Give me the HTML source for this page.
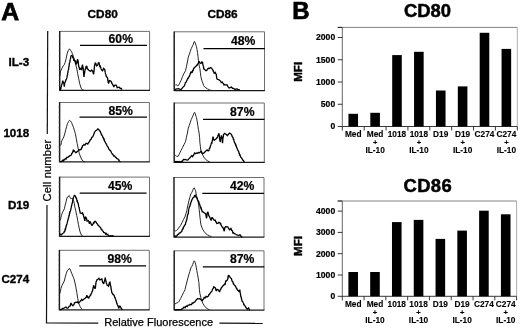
<!DOCTYPE html>
<html><head><meta charset="utf-8"><style>
html,body{margin:0;padding:0;background:#fff;}
svg{display:block;filter:grayscale(1);}
</style></head><body>
<svg width="520" height="328" viewBox="0 0 520 328">
<rect width="520" height="328" fill="#fff"/>
<text x="1.2" y="19.6" font-size="24.8" font-weight="bold" stroke="#000" stroke-width="0.75" font-family="Liberation Sans, sans-serif">A</text>
<text x="87.6" y="18.2" font-size="11.8" font-weight="bold" stroke="#000" stroke-width="0.35" font-family="Liberation Sans, sans-serif">CD80</text>
<text x="207.4" y="18.2" font-size="11.8" font-weight="bold" stroke="#000" stroke-width="0.35" font-family="Liberation Sans, sans-serif">CD86</text>
<text x="29.2" y="65.8" font-size="11.6" font-weight="bold" stroke="#000" stroke-width="0.35" text-anchor="end" font-family="Liberation Sans, sans-serif">IL-3</text>
<text x="29.2" y="137.3" font-size="11.6" font-weight="bold" stroke="#000" stroke-width="0.35" text-anchor="end" font-family="Liberation Sans, sans-serif">1018</text>
<text x="29.2" y="209.2" font-size="11.6" font-weight="bold" stroke="#000" stroke-width="0.35" text-anchor="end" font-family="Liberation Sans, sans-serif">D19</text>
<text x="29.2" y="282.7" font-size="11.6" font-weight="bold" stroke="#000" stroke-width="0.35" text-anchor="end" font-family="Liberation Sans, sans-serif">C274</text>
<polyline points="59.7,31.4 149.6,31.4 149.6,90.3" fill="none" stroke="#666" stroke-width="0.95"/>
<line x1="59.7" y1="90.3" x2="150.0" y2="90.3" stroke="#1a1a1a" stroke-width="1.25"/>
<line x1="59.7" y1="31.0" x2="59.7" y2="90.89999999999999" stroke="#1a1a1a" stroke-width="1.45"/>
<line x1="58.5" y1="85.39" x2="59.7" y2="85.39" stroke="#666" stroke-width="0.6"/>
<line x1="58.5" y1="80.48" x2="59.7" y2="80.48" stroke="#666" stroke-width="0.6"/>
<line x1="58.5" y1="75.58" x2="59.7" y2="75.58" stroke="#666" stroke-width="0.6"/>
<line x1="58.5" y1="70.67" x2="59.7" y2="70.67" stroke="#666" stroke-width="0.6"/>
<line x1="58.5" y1="65.76" x2="59.7" y2="65.76" stroke="#666" stroke-width="0.6"/>
<line x1="58.5" y1="60.85" x2="59.7" y2="60.85" stroke="#666" stroke-width="0.6"/>
<line x1="58.5" y1="55.94" x2="59.7" y2="55.94" stroke="#666" stroke-width="0.6"/>
<line x1="58.5" y1="51.03" x2="59.7" y2="51.03" stroke="#666" stroke-width="0.6"/>
<line x1="58.5" y1="46.12" x2="59.7" y2="46.12" stroke="#666" stroke-width="0.6"/>
<line x1="58.5" y1="41.22" x2="59.7" y2="41.22" stroke="#666" stroke-width="0.6"/>
<line x1="58.5" y1="36.31" x2="59.7" y2="36.31" stroke="#666" stroke-width="0.6"/>
<text x="108.6" y="42.8" font-size="12.2" font-weight="bold" stroke="#000" stroke-width="0.2" font-family="Liberation Sans, sans-serif">60%</text>
<line x1="80.0" y1="45.4" x2="147.0" y2="45.4" stroke="#000" stroke-width="1.25"/>
<polyline points="174.2,31.8 264.5,31.8 264.5,90.5" fill="none" stroke="#666" stroke-width="0.95"/>
<line x1="174.2" y1="90.5" x2="264.9" y2="90.5" stroke="#1a1a1a" stroke-width="1.25"/>
<line x1="174.2" y1="31.400000000000002" x2="174.2" y2="91.1" stroke="#1a1a1a" stroke-width="1.45"/>
<line x1="173.0" y1="85.61" x2="174.2" y2="85.61" stroke="#666" stroke-width="0.6"/>
<line x1="173.0" y1="80.72" x2="174.2" y2="80.72" stroke="#666" stroke-width="0.6"/>
<line x1="173.0" y1="75.83" x2="174.2" y2="75.83" stroke="#666" stroke-width="0.6"/>
<line x1="173.0" y1="70.93" x2="174.2" y2="70.93" stroke="#666" stroke-width="0.6"/>
<line x1="173.0" y1="66.04" x2="174.2" y2="66.04" stroke="#666" stroke-width="0.6"/>
<line x1="173.0" y1="61.15" x2="174.2" y2="61.15" stroke="#666" stroke-width="0.6"/>
<line x1="173.0" y1="56.26" x2="174.2" y2="56.26" stroke="#666" stroke-width="0.6"/>
<line x1="173.0" y1="51.37" x2="174.2" y2="51.37" stroke="#666" stroke-width="0.6"/>
<line x1="173.0" y1="46.47" x2="174.2" y2="46.47" stroke="#666" stroke-width="0.6"/>
<line x1="173.0" y1="41.58" x2="174.2" y2="41.58" stroke="#666" stroke-width="0.6"/>
<line x1="173.0" y1="36.69" x2="174.2" y2="36.69" stroke="#666" stroke-width="0.6"/>
<text x="231.0" y="44.7" font-size="12.2" font-weight="bold" stroke="#000" stroke-width="0.2" font-family="Liberation Sans, sans-serif">48%</text>
<line x1="203.5" y1="48.6" x2="264.8" y2="48.6" stroke="#000" stroke-width="1.25"/>
<polyline points="59.6,102.5 149.4,102.5 149.4,161.8" fill="none" stroke="#666" stroke-width="0.95"/>
<line x1="59.6" y1="161.8" x2="149.8" y2="161.8" stroke="#1a1a1a" stroke-width="1.25"/>
<line x1="59.6" y1="102.1" x2="59.6" y2="162.4" stroke="#1a1a1a" stroke-width="1.45"/>
<line x1="58.4" y1="156.86" x2="59.6" y2="156.86" stroke="#666" stroke-width="0.6"/>
<line x1="58.4" y1="151.92" x2="59.6" y2="151.92" stroke="#666" stroke-width="0.6"/>
<line x1="58.4" y1="146.98" x2="59.6" y2="146.98" stroke="#666" stroke-width="0.6"/>
<line x1="58.4" y1="142.03" x2="59.6" y2="142.03" stroke="#666" stroke-width="0.6"/>
<line x1="58.4" y1="137.09" x2="59.6" y2="137.09" stroke="#666" stroke-width="0.6"/>
<line x1="58.4" y1="132.15" x2="59.6" y2="132.15" stroke="#666" stroke-width="0.6"/>
<line x1="58.4" y1="127.21" x2="59.6" y2="127.21" stroke="#666" stroke-width="0.6"/>
<line x1="58.4" y1="122.27" x2="59.6" y2="122.27" stroke="#666" stroke-width="0.6"/>
<line x1="58.4" y1="117.33" x2="59.6" y2="117.33" stroke="#666" stroke-width="0.6"/>
<line x1="58.4" y1="112.38" x2="59.6" y2="112.38" stroke="#666" stroke-width="0.6"/>
<line x1="58.4" y1="107.44" x2="59.6" y2="107.44" stroke="#666" stroke-width="0.6"/>
<text x="108.4" y="115.0" font-size="12.2" font-weight="bold" stroke="#000" stroke-width="0.2" font-family="Liberation Sans, sans-serif">85%</text>
<line x1="79.5" y1="117.0" x2="147.0" y2="117.0" stroke="#000" stroke-width="1.25"/>
<polyline points="174.2,103.0 264.3,103.0 264.3,162.3" fill="none" stroke="#666" stroke-width="0.95"/>
<line x1="174.2" y1="162.3" x2="264.7" y2="162.3" stroke="#1a1a1a" stroke-width="1.25"/>
<line x1="174.2" y1="102.6" x2="174.2" y2="162.9" stroke="#1a1a1a" stroke-width="1.45"/>
<line x1="173.0" y1="157.36" x2="174.2" y2="157.36" stroke="#666" stroke-width="0.6"/>
<line x1="173.0" y1="152.42" x2="174.2" y2="152.42" stroke="#666" stroke-width="0.6"/>
<line x1="173.0" y1="147.48" x2="174.2" y2="147.48" stroke="#666" stroke-width="0.6"/>
<line x1="173.0" y1="142.53" x2="174.2" y2="142.53" stroke="#666" stroke-width="0.6"/>
<line x1="173.0" y1="137.59" x2="174.2" y2="137.59" stroke="#666" stroke-width="0.6"/>
<line x1="173.0" y1="132.65" x2="174.2" y2="132.65" stroke="#666" stroke-width="0.6"/>
<line x1="173.0" y1="127.71" x2="174.2" y2="127.71" stroke="#666" stroke-width="0.6"/>
<line x1="173.0" y1="122.77" x2="174.2" y2="122.77" stroke="#666" stroke-width="0.6"/>
<line x1="173.0" y1="117.83" x2="174.2" y2="117.83" stroke="#666" stroke-width="0.6"/>
<line x1="173.0" y1="112.88" x2="174.2" y2="112.88" stroke="#666" stroke-width="0.6"/>
<line x1="173.0" y1="107.94" x2="174.2" y2="107.94" stroke="#666" stroke-width="0.6"/>
<text x="230.1" y="115.8" font-size="12.2" font-weight="bold" stroke="#000" stroke-width="0.2" font-family="Liberation Sans, sans-serif">87%</text>
<line x1="203.0" y1="119.4" x2="264.5" y2="119.4" stroke="#000" stroke-width="1.25"/>
<polyline points="59.6,177.1 149.5,177.1 149.5,236.3" fill="none" stroke="#666" stroke-width="0.95"/>
<line x1="59.6" y1="236.3" x2="149.9" y2="236.3" stroke="#1a1a1a" stroke-width="1.25"/>
<line x1="59.6" y1="176.7" x2="59.6" y2="236.9" stroke="#1a1a1a" stroke-width="1.45"/>
<line x1="58.4" y1="231.37" x2="59.6" y2="231.37" stroke="#666" stroke-width="0.6"/>
<line x1="58.4" y1="226.43" x2="59.6" y2="226.43" stroke="#666" stroke-width="0.6"/>
<line x1="58.4" y1="221.50" x2="59.6" y2="221.50" stroke="#666" stroke-width="0.6"/>
<line x1="58.4" y1="216.57" x2="59.6" y2="216.57" stroke="#666" stroke-width="0.6"/>
<line x1="58.4" y1="211.63" x2="59.6" y2="211.63" stroke="#666" stroke-width="0.6"/>
<line x1="58.4" y1="206.70" x2="59.6" y2="206.70" stroke="#666" stroke-width="0.6"/>
<line x1="58.4" y1="201.77" x2="59.6" y2="201.77" stroke="#666" stroke-width="0.6"/>
<line x1="58.4" y1="196.83" x2="59.6" y2="196.83" stroke="#666" stroke-width="0.6"/>
<line x1="58.4" y1="191.90" x2="59.6" y2="191.90" stroke="#666" stroke-width="0.6"/>
<line x1="58.4" y1="186.97" x2="59.6" y2="186.97" stroke="#666" stroke-width="0.6"/>
<line x1="58.4" y1="182.03" x2="59.6" y2="182.03" stroke="#666" stroke-width="0.6"/>
<text x="108.0" y="190.2" font-size="12.2" font-weight="bold" stroke="#000" stroke-width="0.2" font-family="Liberation Sans, sans-serif">45%</text>
<line x1="79.7" y1="193.1" x2="146.6" y2="193.1" stroke="#000" stroke-width="1.25"/>
<polyline points="174.0,177.5 264.0,177.5 264.0,237.0" fill="none" stroke="#666" stroke-width="0.95"/>
<line x1="174.0" y1="237.0" x2="264.4" y2="237.0" stroke="#1a1a1a" stroke-width="1.25"/>
<line x1="174.0" y1="177.1" x2="174.0" y2="237.6" stroke="#1a1a1a" stroke-width="1.45"/>
<line x1="172.8" y1="232.04" x2="174.0" y2="232.04" stroke="#666" stroke-width="0.6"/>
<line x1="172.8" y1="227.08" x2="174.0" y2="227.08" stroke="#666" stroke-width="0.6"/>
<line x1="172.8" y1="222.12" x2="174.0" y2="222.12" stroke="#666" stroke-width="0.6"/>
<line x1="172.8" y1="217.17" x2="174.0" y2="217.17" stroke="#666" stroke-width="0.6"/>
<line x1="172.8" y1="212.21" x2="174.0" y2="212.21" stroke="#666" stroke-width="0.6"/>
<line x1="172.8" y1="207.25" x2="174.0" y2="207.25" stroke="#666" stroke-width="0.6"/>
<line x1="172.8" y1="202.29" x2="174.0" y2="202.29" stroke="#666" stroke-width="0.6"/>
<line x1="172.8" y1="197.33" x2="174.0" y2="197.33" stroke="#666" stroke-width="0.6"/>
<line x1="172.8" y1="192.38" x2="174.0" y2="192.38" stroke="#666" stroke-width="0.6"/>
<line x1="172.8" y1="187.42" x2="174.0" y2="187.42" stroke="#666" stroke-width="0.6"/>
<line x1="172.8" y1="182.46" x2="174.0" y2="182.46" stroke="#666" stroke-width="0.6"/>
<text x="229.9" y="190.4" font-size="12.2" font-weight="bold" stroke="#000" stroke-width="0.2" font-family="Liberation Sans, sans-serif">42%</text>
<line x1="202.3" y1="193.4" x2="264.0" y2="193.4" stroke="#000" stroke-width="1.25"/>
<polyline points="59.4,250.3 149.3,250.3 149.3,309.8" fill="none" stroke="#666" stroke-width="0.95"/>
<line x1="59.4" y1="309.8" x2="149.70000000000002" y2="309.8" stroke="#1a1a1a" stroke-width="1.25"/>
<line x1="59.4" y1="249.9" x2="59.4" y2="310.40000000000003" stroke="#1a1a1a" stroke-width="1.45"/>
<line x1="58.199999999999996" y1="304.84" x2="59.4" y2="304.84" stroke="#666" stroke-width="0.6"/>
<line x1="58.199999999999996" y1="299.88" x2="59.4" y2="299.88" stroke="#666" stroke-width="0.6"/>
<line x1="58.199999999999996" y1="294.93" x2="59.4" y2="294.93" stroke="#666" stroke-width="0.6"/>
<line x1="58.199999999999996" y1="289.97" x2="59.4" y2="289.97" stroke="#666" stroke-width="0.6"/>
<line x1="58.199999999999996" y1="285.01" x2="59.4" y2="285.01" stroke="#666" stroke-width="0.6"/>
<line x1="58.199999999999996" y1="280.05" x2="59.4" y2="280.05" stroke="#666" stroke-width="0.6"/>
<line x1="58.199999999999996" y1="275.09" x2="59.4" y2="275.09" stroke="#666" stroke-width="0.6"/>
<line x1="58.199999999999996" y1="270.13" x2="59.4" y2="270.13" stroke="#666" stroke-width="0.6"/>
<line x1="58.199999999999996" y1="265.18" x2="59.4" y2="265.18" stroke="#666" stroke-width="0.6"/>
<line x1="58.199999999999996" y1="260.22" x2="59.4" y2="260.22" stroke="#666" stroke-width="0.6"/>
<line x1="58.199999999999996" y1="255.26" x2="59.4" y2="255.26" stroke="#666" stroke-width="0.6"/>
<text x="107.4" y="262.9" font-size="12.2" font-weight="bold" stroke="#000" stroke-width="0.2" font-family="Liberation Sans, sans-serif">98%</text>
<line x1="79.3" y1="265.9" x2="146.1" y2="265.9" stroke="#000" stroke-width="1.25"/>
<polyline points="174.2,250.8 264.0,250.8 264.0,310.0" fill="none" stroke="#666" stroke-width="0.95"/>
<line x1="174.2" y1="310.0" x2="264.4" y2="310.0" stroke="#1a1a1a" stroke-width="1.25"/>
<line x1="174.2" y1="250.4" x2="174.2" y2="310.6" stroke="#1a1a1a" stroke-width="1.45"/>
<line x1="173.0" y1="305.07" x2="174.2" y2="305.07" stroke="#666" stroke-width="0.6"/>
<line x1="173.0" y1="300.13" x2="174.2" y2="300.13" stroke="#666" stroke-width="0.6"/>
<line x1="173.0" y1="295.20" x2="174.2" y2="295.20" stroke="#666" stroke-width="0.6"/>
<line x1="173.0" y1="290.27" x2="174.2" y2="290.27" stroke="#666" stroke-width="0.6"/>
<line x1="173.0" y1="285.33" x2="174.2" y2="285.33" stroke="#666" stroke-width="0.6"/>
<line x1="173.0" y1="280.40" x2="174.2" y2="280.40" stroke="#666" stroke-width="0.6"/>
<line x1="173.0" y1="275.47" x2="174.2" y2="275.47" stroke="#666" stroke-width="0.6"/>
<line x1="173.0" y1="270.53" x2="174.2" y2="270.53" stroke="#666" stroke-width="0.6"/>
<line x1="173.0" y1="265.60" x2="174.2" y2="265.60" stroke="#666" stroke-width="0.6"/>
<line x1="173.0" y1="260.67" x2="174.2" y2="260.67" stroke="#666" stroke-width="0.6"/>
<line x1="173.0" y1="255.73" x2="174.2" y2="255.73" stroke="#666" stroke-width="0.6"/>
<text x="230.0" y="262.9" font-size="12.2" font-weight="bold" stroke="#000" stroke-width="0.2" font-family="Liberation Sans, sans-serif">87%</text>
<line x1="202.8" y1="266.8" x2="264.3" y2="266.8" stroke="#000" stroke-width="1.25"/>
<polyline points="59.90,76.00 60.40,71.90 61.80,68.50 63.30,65.80 64.30,64.70 65.20,62.30 66.20,58.50 67.10,53.70 68.10,50.80 69.10,49.30 69.50,48.80 70.50,50.30 71.50,51.70 72.40,53.70 73.40,56.50 74.50,60.00 75.80,65.00 76.80,68.80 77.70,73.70 78.70,78.50 79.60,83.30 81.10,88.10 82.50,90.00 84.00,90.20" fill="none" stroke="#1a1a1a" stroke-width="0.95" stroke-linejoin="round"/>
<polyline points="59.90,90.00 60.23,89.92 60.57,88.15 60.90,88.38 61.08,86.91 61.26,87.12 61.44,85.18 61.62,85.44 61.80,84.42 62.05,83.80 62.30,83.15 62.55,81.41 62.80,80.71 63.05,81.85 63.30,82.04 63.65,82.97 64.00,83.87 64.15,85.63 64.30,86.65 64.40,85.83 64.50,84.42 64.60,84.53 64.70,83.31 65.03,82.18 65.37,81.65 65.70,80.80 66.03,79.59 66.37,79.38 66.70,78.33 66.85,77.78 67.00,77.42 67.15,76.27 67.30,75.19 67.45,74.94 67.60,74.29 67.74,72.99 67.89,72.83 68.03,71.02 68.17,70.47 68.31,69.81 68.46,70.03 68.60,69.03 68.73,68.28 68.86,66.97 68.99,66.44 69.11,66.12 69.24,64.39 69.37,63.63 69.50,62.76 69.64,62.58 69.79,62.34 69.93,61.31 70.07,60.44 70.21,59.87 70.36,58.80 70.50,59.04 70.67,57.52 70.83,56.58 71.00,55.87 71.50,55.49 72.40,55.88 72.73,57.39 73.07,57.50 73.40,58.43 73.65,58.94 73.90,60.89 74.30,59.76 74.55,60.32 74.80,60.84 75.30,60.39 75.42,60.98 75.55,62.26 75.67,63.09 75.80,63.59 76.30,63.94 76.55,62.95 76.80,63.27 76.93,62.53 77.07,60.79 77.20,60.40 77.70,59.38 77.83,60.70 77.95,60.30 78.08,61.05 78.20,62.71 78.30,63.16 78.40,63.81 78.50,64.97 78.60,65.53 78.70,66.43 78.95,66.86 79.20,67.60 79.40,68.46 79.60,69.80 79.85,69.23 80.10,67.96 80.60,68.82 81.10,68.24 81.35,69.30 81.60,70.11 81.68,69.01 81.76,68.87 81.84,68.08 81.92,67.43 82.00,66.67 82.50,64.62 82.75,66.35 83.00,66.92 83.07,67.67 83.14,68.52 83.21,68.77 83.29,69.60 83.36,71.18 83.43,71.10 83.50,72.50 83.57,73.01 83.64,73.35 83.71,74.14 83.79,75.27 83.86,76.17 83.93,76.52 84.00,76.97 84.08,76.41 84.16,76.53 84.24,75.67 84.32,74.23 84.40,74.40 84.53,73.34 84.65,72.30 84.78,72.22 84.90,70.55 85.15,69.52 85.40,68.81 85.65,68.34 85.90,67.16 86.15,66.38 86.40,66.19 86.60,66.27 86.80,67.45 87.05,67.26 87.30,68.94 87.80,69.09 88.80,70.19 89.70,70.91 90.70,71.19 91.20,70.59 91.70,70.06 92.60,71.10 92.80,71.40 93.00,72.00 93.20,73.15 93.40,73.86 93.60,74.14 93.67,73.94 93.75,73.16 93.82,72.09 93.90,72.05 93.97,71.43 94.05,70.21 94.12,70.14 94.20,69.58 94.28,68.49 94.35,67.49 94.42,66.63 94.50,65.76 94.62,65.20 94.75,65.35 94.88,63.50 95.00,63.80 95.50,62.54 95.75,63.59 96.00,63.72 96.25,65.38 96.50,65.85 97.40,65.41 97.73,64.75 98.07,63.87 98.40,62.84 98.90,62.76 99.10,62.93 99.30,63.79 99.47,65.44 99.63,65.27 99.80,66.50 100.30,66.20 100.52,67.43 100.74,67.51 100.96,68.42 101.18,69.02 101.40,69.67 101.95,70.22 102.50,70.76 102.87,70.15 103.23,69.19 103.60,68.41 104.80,69.61 104.90,70.47 105.00,70.40 105.10,72.04 105.20,71.73 105.30,72.90 105.54,74.24 105.78,74.02 106.02,75.28 106.26,76.33 106.50,76.53 106.87,77.12 107.23,77.37 107.60,78.64 107.75,79.51 107.90,80.75 108.05,81.12 108.20,82.47 108.70,83.09 108.90,82.63 109.10,82.04 109.30,80.60 110.40,80.94 110.95,81.19 111.50,82.08 111.80,83.37 112.10,83.59 112.40,84.22 112.70,84.56 113.25,85.41 113.80,86.91 114.35,85.76 114.90,85.09 116.10,85.13 116.47,85.89 116.83,86.22 117.20,87.64 118.30,87.44 119.15,87.21 120.00,88.14 121.10,88.78 121.50,88.49 121.90,89.60" fill="none" stroke="#000" stroke-width="1.3" stroke-linejoin="miter" stroke-miterlimit="2"/>
<polyline points="174.90,85.60 175.80,84.60 176.80,85.10 177.80,86.00 178.70,85.10 179.70,83.20 181.10,80.30 182.60,76.40 184.00,73.50 185.50,70.70 186.40,66.80 187.40,62.00 188.30,57.20 189.30,54.30 190.30,51.50 191.20,48.60 192.20,46.70 193.20,44.70 194.10,41.80 194.60,41.40 195.10,42.80 196.00,45.20 196.50,46.70 197.00,49.50 197.50,52.40 198.00,56.30 198.40,60.10 198.90,64.00 199.40,66.80 199.90,68.70 200.40,72.60 200.80,76.40 201.80,80.30 202.80,83.20 203.70,85.60 204.70,87.00 206.10,88.00 207.60,88.90 209.50,89.90 211.40,90.40" fill="none" stroke="#1a1a1a" stroke-width="0.95" stroke-linejoin="round"/>
<polyline points="174.90,89.90 175.85,89.20 176.80,88.90 177.75,88.91 178.70,88.65 179.45,89.05 180.20,89.37 180.90,89.46 181.60,88.98 182.10,88.33 182.60,87.67 183.50,86.68 184.00,86.37 184.50,85.50 184.75,84.87 185.00,83.87 185.25,83.28 185.50,82.58 185.95,82.37 186.40,81.48 186.73,80.91 187.07,79.82 187.40,79.23 187.70,78.44 188.00,78.60 188.30,77.99 188.80,76.94 189.30,76.64 189.63,75.47 189.97,74.71 190.30,73.55 190.60,72.76 190.90,72.88 191.20,71.88 192.20,72.35 192.53,70.70 192.87,70.89 193.20,70.28 193.65,68.63 194.10,68.02 194.60,67.60 195.10,66.86 196.00,66.22 196.50,65.32 197.00,65.34 197.50,64.23 198.00,63.85 198.90,62.11 199.10,61.38 199.90,62.90 200.80,63.50 201.30,63.10 201.80,62.00 202.60,62.43 202.83,64.35 203.07,65.32 203.30,66.14 203.40,65.97 203.50,66.85 203.60,67.69 203.70,68.34 204.20,69.43 204.70,69.39 205.70,70.59 206.60,70.51 207.10,69.95 207.60,69.00 208.50,68.25 209.50,68.48 210.50,67.46 211.40,67.93 212.40,69.30 212.70,69.77 213.00,70.59 213.30,70.28 213.55,71.86 213.80,71.94 214.05,72.75 214.30,73.70 215.30,72.47 215.60,73.16 215.90,73.77 216.20,74.33 216.30,74.64 216.40,75.86 216.50,76.30 216.60,77.17 216.70,77.97 217.25,79.28 217.80,79.48 219.00,79.79 219.55,80.35 220.10,80.79 220.65,81.10 221.20,82.68 222.30,82.10 222.90,83.15 223.50,83.72 224.05,84.92 224.60,84.50 225.70,85.03 226.90,84.72 227.27,85.14 227.63,85.99 228.00,86.61 229.10,88.05 230.20,87.65 231.40,87.12 232.50,88.29 233.60,88.31 234.80,89.46 235.90,89.07 237.00,89.02 238.10,89.36 238.90,89.56 239.80,90.00" fill="none" stroke="#000" stroke-width="1.3" stroke-linejoin="miter" stroke-miterlimit="2"/>
<polyline points="60.40,145.50 60.90,145.10 61.40,142.70 61.80,140.70 62.80,138.80 63.80,136.90 64.70,134.00 65.70,130.10 66.70,126.30 67.60,123.40 68.60,121.50 69.50,120.30 70.50,121.00 71.50,122.40 72.40,124.80 73.40,127.20 74.30,130.10 75.30,133.50 76.30,138.80 77.20,143.60 78.20,148.40 79.20,153.20 80.60,157.10 82.00,160.00 83.50,161.40 85.00,161.80" fill="none" stroke="#1a1a1a" stroke-width="0.95" stroke-linejoin="round"/>
<polyline points="60.40,161.90 61.10,161.50 61.80,161.31 62.55,160.27 63.30,161.00 64.00,159.58 64.70,159.71 65.45,158.51 66.20,158.81 66.90,157.38 67.60,157.35 68.35,156.87 69.10,156.42 69.80,155.58 70.50,155.64 71.20,155.04 71.90,153.24 72.23,152.92 72.57,152.65 72.90,151.59 73.15,150.53 73.40,149.67 73.85,151.14 74.30,150.80 75.30,152.11 75.80,152.71 76.30,152.39 77.20,151.59 77.70,151.07 78.20,150.85 79.20,149.74 80.10,149.87 81.10,149.41 81.55,147.98 82.00,147.97 82.33,146.32 82.67,145.68 83.00,145.70 83.50,145.16 84.00,144.48 84.90,145.19 85.40,144.53 85.90,143.32 86.80,143.39 87.80,144.11 88.80,142.21 89.25,141.94 89.70,140.79 90.03,140.14 90.37,139.91 90.70,139.50 91.20,139.12 91.70,137.36 92.15,137.11 92.60,137.00 93.10,136.02 93.60,135.04 93.85,133.94 94.10,133.66 94.40,132.41 94.70,132.07 95.00,131.28 96.00,130.47 96.90,129.95 97.90,128.88 98.90,129.56 99.35,130.75 99.80,130.80 100.30,131.57 100.80,132.89 101.13,133.52 101.47,134.85 101.80,134.90 102.15,135.70 102.50,135.97 102.85,137.09 103.20,137.58 103.53,138.41 103.87,139.45 104.20,139.24 104.50,141.02 104.80,141.32 105.10,142.07 105.43,142.38 105.77,143.06 106.10,143.49 106.40,144.28 106.70,144.86 107.00,145.76 107.60,146.55 108.20,147.40 108.75,148.94 109.30,149.66 109.85,150.32 110.40,150.42 110.95,151.56 111.50,152.75 112.10,153.73 112.70,154.20 113.25,155.06 113.80,155.99 114.35,155.77 114.90,156.46 115.50,157.46 116.10,157.48 116.67,158.53 117.23,158.71 117.80,158.82 118.33,159.86 118.87,159.88 119.40,161.24 120.00,161.50 120.60,161.70" fill="none" stroke="#000" stroke-width="1.3" stroke-linejoin="miter" stroke-miterlimit="2"/>
<polyline points="174.90,154.70 175.80,155.60 176.80,156.60 178.30,156.10 179.70,153.20 181.10,150.30 182.60,147.50 184.00,144.60 185.50,141.70 186.40,137.60 187.40,133.00 188.30,128.20 189.30,125.30 190.30,122.40 191.20,119.50 192.20,117.60 193.20,115.20 194.10,112.80 194.60,112.30 195.10,113.30 196.00,116.20 196.50,117.60 197.20,121.50 197.80,125.30 198.40,129.20 199.10,133.00 199.60,137.60 199.90,142.70 200.40,146.50 200.80,150.30 201.80,153.20 202.80,155.20 204.20,157.60 205.70,159.50 207.60,160.90 210.00,162.10" fill="none" stroke="#1a1a1a" stroke-width="0.95" stroke-linejoin="round"/>
<polyline points="174.90,161.90 175.62,161.47 176.35,161.74 177.08,161.35 177.80,161.55 178.56,162.00 179.32,161.56 180.08,162.00 180.84,162.00 181.60,161.32 182.10,161.84 182.60,160.87 183.50,159.43 184.50,159.61 185.50,159.34 186.45,159.82 187.40,160.10 188.10,159.71 188.80,158.85 189.55,158.03 190.30,157.42 191.00,156.43 191.70,155.68 192.70,156.53 193.00,155.69 193.30,155.43 193.60,155.23 194.10,154.08 194.60,153.08 195.60,153.76 196.50,152.94 197.50,153.29 198.40,152.52 199.40,152.75 200.40,152.10 201.30,150.81 201.80,152.63 202.30,153.25 203.30,153.29 204.20,152.76 204.70,152.11 205.20,151.84 206.10,150.65 207.10,149.89 208.10,150.86 209.00,150.30 209.33,148.75 209.67,147.93 210.00,147.88 210.22,146.90 210.45,145.83 210.68,145.56 210.90,144.94 211.23,143.45 211.57,142.80 211.90,142.95 212.03,142.11 212.15,141.35 212.28,140.72 212.40,140.19 212.60,139.22 212.80,137.93 213.00,137.20 213.20,137.30 213.35,137.86 213.50,138.80 213.65,139.51 213.80,139.97 214.30,140.37 215.30,139.40 216.20,138.87 216.75,137.93 217.30,137.80 217.54,136.94 217.78,136.19 218.02,135.24 218.26,135.54 218.50,134.15 219.10,133.60 219.17,134.81 219.24,135.18 219.31,135.99 219.39,136.82 219.46,137.11 219.53,138.67 219.60,138.69 219.72,139.78 219.84,140.43 219.96,140.83 220.08,141.14 220.20,141.95 220.30,141.65 220.40,140.75 220.50,140.44 220.60,138.70 220.70,138.45 220.80,137.85 221.00,137.11 221.20,136.30 221.40,135.42 221.60,136.52 221.80,136.64 222.00,137.60 222.06,138.84 222.12,138.92 222.19,140.24 222.25,140.17 222.31,141.01 222.38,142.39 222.44,142.88 222.50,143.17 222.57,142.48 222.65,142.19 222.72,141.23 222.80,140.14 222.88,139.40 222.95,139.52 223.03,137.97 223.10,138.08 223.25,136.61 223.40,136.07 223.55,134.70 223.70,134.26 224.80,133.30 226.00,134.39 226.60,134.69 227.20,135.65 227.75,134.84 228.30,134.67 228.90,133.61 229.50,133.07 230.60,133.71 231.20,134.08 231.80,135.32 232.20,136.63 232.60,137.09 233.00,137.34 233.22,138.97 233.44,139.06 233.66,139.29 233.88,140.20 234.10,140.82 234.50,142.55 234.90,142.94 235.30,144.07 235.52,144.10 235.74,145.47 235.96,145.40 236.18,145.84 236.40,146.56 236.70,147.59 237.00,148.30 237.30,148.84 237.60,149.83 238.00,150.28 238.40,151.03 238.80,151.98 239.08,153.36 239.35,153.39 239.62,154.92 239.90,154.78 240.30,155.73 240.70,157.07 241.10,157.61 241.47,157.87 241.83,158.61 242.20,158.84 242.80,160.18 243.40,160.32 243.95,161.59 244.50,162.30" fill="none" stroke="#000" stroke-width="1.3" stroke-linejoin="miter" stroke-miterlimit="2"/>
<polyline points="60.10,220.50 60.70,218.60 61.40,215.70 62.30,212.80 63.30,210.90 64.30,208.90 65.20,205.10 66.20,201.20 67.10,197.40 68.10,196.90 69.10,195.50 69.50,196.40 70.00,197.40 71.00,198.80 71.90,197.90 72.40,198.80 73.40,200.30 74.30,203.20 74.80,207.00 75.80,210.90 76.80,215.70 77.70,220.50 78.40,224.30 79.20,228.20 80.10,232.00 81.60,235.40 83.00,236.40" fill="none" stroke="#1a1a1a" stroke-width="0.95" stroke-linejoin="round"/>
<polyline points="59.90,234.90 60.90,234.24 61.60,234.74 62.30,233.64 63.05,233.26 63.80,232.90 64.10,232.05 64.40,231.49 64.70,231.51 64.95,230.36 65.20,229.15 65.45,229.34 65.70,227.87 65.90,227.77 66.10,226.11 66.30,226.05 66.50,225.19 66.70,224.43 66.92,224.18 67.15,223.19 67.38,222.00 67.60,221.45 67.80,220.20 68.00,220.09 68.20,219.04 68.40,217.90 68.60,217.76 68.78,217.16 68.96,215.59 69.14,215.57 69.32,214.78 69.50,213.33 69.70,213.40 69.90,211.97 70.10,211.18 70.30,211.44 70.50,210.88 70.67,209.67 70.83,209.49 71.00,208.32 71.17,207.92 71.33,206.67 71.50,205.92 71.68,205.75 71.86,204.56 72.04,203.69 72.22,203.42 72.40,202.50 72.57,201.73 72.73,200.43 72.90,200.34 73.07,199.07 73.23,197.82 73.40,197.51 73.90,196.48 74.30,195.46 75.30,195.95 75.63,197.16 75.97,197.79 76.30,197.81 76.53,199.05 76.75,199.60 76.97,200.75 77.20,201.43 77.45,201.38 77.70,202.72 77.95,202.84 78.20,203.58 78.40,204.54 78.60,206.13 78.80,206.78 79.00,207.36 79.20,207.77 79.30,209.04 79.40,208.96 79.50,210.18 79.60,210.40 79.93,211.16 80.27,213.05 80.60,213.09 81.60,213.32 82.50,212.72 82.75,214.02 83.00,214.45 83.25,214.46 83.50,215.61 83.72,216.99 83.95,217.03 84.18,217.81 84.40,218.74 84.65,220.07 84.90,220.90 85.03,219.40 85.15,218.95 85.28,217.99 85.40,216.78 85.90,217.39 86.40,218.28 86.62,218.96 86.85,219.81 87.08,221.14 87.30,221.09 87.80,220.77 88.30,220.60 88.50,221.07 88.70,221.30 88.90,221.45 89.10,222.77 89.30,223.64 89.60,222.90 89.90,222.44 90.20,221.42 90.45,222.19 90.70,223.12 90.95,223.26 91.20,224.19 92.10,225.55 92.60,224.54 93.10,223.87 93.60,222.70 94.10,222.92 94.55,221.46 95.00,221.28 96.00,221.90 96.45,222.97 96.90,223.64 97.40,223.94 97.90,225.03 98.40,225.59 98.90,226.02 99.80,226.94 100.30,227.27 100.80,227.99 101.30,229.58 101.80,229.51 102.25,230.34 102.70,230.97 103.20,231.28 103.70,232.46 104.20,232.67 104.90,232.58 105.60,234.02 106.30,233.48 107.00,234.73 107.75,234.31 108.50,235.78 109.30,235.94 110.03,235.78 110.77,235.69 111.50,236.00 112.27,235.67 113.03,236.00 113.80,236.20" fill="none" stroke="#000" stroke-width="1.3" stroke-linejoin="miter" stroke-miterlimit="2"/>
<polyline points="59.90,293.50 60.40,291.60 60.90,288.70 61.80,285.80 62.80,283.90 63.80,282.00 64.30,281.00 65.20,277.20 66.20,273.80 67.10,270.90 68.10,270.00 69.10,268.50 70.00,269.00 71.00,271.40 71.90,273.80 72.90,276.20 73.90,278.60 74.80,282.00 75.80,286.80 76.80,292.60 77.70,298.30 78.70,303.20 80.10,306.50 81.60,308.90 82.50,309.70" fill="none" stroke="#1a1a1a" stroke-width="0.95" stroke-linejoin="round"/>
<polyline points="59.90,309.70 60.85,309.50 61.80,309.44 62.55,308.47 63.30,308.38 64.00,308.14 64.70,307.80 65.45,307.11 66.20,307.14 66.90,308.03 67.60,308.04 68.35,307.73 69.10,306.23 70.00,306.11 70.33,305.31 70.67,303.80 71.00,303.01 71.90,304.89 72.40,305.22 72.90,305.69 73.40,304.95 73.90,304.69 74.20,303.77 74.50,302.84 74.80,302.78 75.80,302.20 76.80,302.31 77.70,301.83 78.20,303.02 78.70,302.84 79.60,302.17 80.10,301.39 80.60,301.05 81.10,300.46 81.60,299.41 82.50,300.38 83.50,299.49 84.40,298.80 85.40,297.96 85.90,297.38 86.40,297.05 86.60,295.82 86.80,295.86 87.13,295.95 87.47,296.20 87.80,297.66 88.80,298.17 89.25,296.68 89.70,296.29 90.03,296.13 90.37,295.01 90.70,295.02 91.03,293.96 91.37,293.48 91.70,293.00 92.00,291.51 92.30,291.29 92.60,290.87 92.72,290.32 92.85,288.66 92.97,289.09 93.10,287.60 93.35,286.93 93.60,285.26 93.90,286.05 94.20,287.29 94.50,287.26 95.00,288.86 95.25,288.29 95.50,287.07 95.58,285.62 95.67,285.39 95.75,285.08 95.83,283.72 95.92,283.24 96.00,282.43 96.22,281.49 96.45,281.45 96.68,280.10 96.90,280.03 97.90,279.24 98.90,278.34 99.80,279.95 100.80,279.39 101.80,278.87 101.95,278.91 102.10,279.63 102.25,280.45 102.40,281.61 102.55,282.03 102.70,282.53 103.20,283.12 103.70,283.90 103.92,282.59 104.15,282.17 104.38,281.22 104.60,281.13 104.74,280.19 104.88,279.86 105.02,278.97 105.16,278.02 105.30,278.06 105.42,278.38 105.54,278.78 105.66,279.68 105.78,280.24 105.90,280.96 106.10,281.31 106.30,282.89 106.50,283.83 106.70,283.64 106.90,284.60 107.10,285.16 107.75,285.41 108.40,286.11 108.60,286.27 108.80,285.12 109.00,284.32 109.20,283.08 109.40,282.84 109.60,282.36 109.90,282.15 110.20,283.28 110.35,284.43 110.50,285.39 110.65,285.52 110.80,286.10 110.92,287.11 111.04,287.56 111.16,289.21 111.28,289.76 111.40,290.47 111.60,291.18 111.80,292.39 112.00,292.92 112.60,293.79 113.03,294.49 113.47,294.39 113.90,295.17 114.30,295.98 114.70,297.32 115.10,297.48 115.34,298.87 115.58,298.96 115.82,299.95 116.06,300.72 116.30,301.08 116.54,302.25 116.78,303.33 117.02,303.49 117.26,304.48 117.50,304.94 117.80,305.56 118.10,306.35 118.40,306.90 118.70,308.48 119.30,306.43 119.65,306.60 120.00,306.08 120.30,306.31 120.60,306.98 121.00,308.13 121.40,308.43 121.80,309.00 122.40,309.80" fill="none" stroke="#000" stroke-width="1.3" stroke-linejoin="miter" stroke-miterlimit="2"/>
<polyline points="174.40,230.10 175.40,231.10 176.30,230.60 177.80,229.20 179.20,227.20 180.70,225.30 182.10,222.40 183.50,219.50 185.00,216.70 185.90,213.80 186.90,210.40 187.90,205.10 188.80,201.20 189.80,197.40 190.80,194.00 191.70,192.60 192.70,190.70 193.30,188.70 194.10,187.80 194.90,189.20 195.60,190.70 196.00,193.10 196.50,195.50 197.20,198.30 198.00,201.20 198.70,205.10 199.20,209.50 199.60,213.50 200.00,217.50 200.40,220.50 200.80,224.30 201.80,227.20 202.80,229.60 204.20,231.60 205.70,233.50 207.60,234.90 209.50,235.90 211.50,236.60" fill="none" stroke="#1a1a1a" stroke-width="0.95" stroke-linejoin="round"/>
<polyline points="174.40,236.80 175.10,236.04 175.80,236.70 176.55,236.20 177.30,234.94 178.00,234.33 178.70,234.14 179.20,233.29 179.70,232.88 180.20,232.81 180.90,232.38 181.60,231.06 181.93,231.03 182.27,229.32 182.60,229.74 182.90,228.37 183.20,228.32 183.50,226.91 184.00,226.72 184.50,225.36 185.00,224.84 185.22,224.74 185.45,224.25 185.68,222.69 185.90,222.23 186.10,221.81 186.30,220.73 186.50,220.70 186.70,219.92 186.90,219.07 187.03,218.08 187.15,217.57 187.28,216.36 187.40,216.23 187.62,215.10 187.85,214.29 188.08,214.10 188.30,213.03 188.40,212.53 188.50,211.10 188.60,210.30 188.70,209.94 188.80,209.11 189.05,208.19 189.30,206.98 189.55,206.78 189.80,206.39 190.05,205.31 190.30,204.01 190.55,204.07 190.80,202.14 191.10,201.98 191.40,201.53 191.70,200.29 192.20,199.20 192.70,198.37 193.15,197.72 193.60,197.34 194.10,197.05 194.60,195.48 195.30,195.23 195.65,196.43 196.00,197.20 196.40,197.18 196.80,197.80 197.50,199.68 197.85,200.30 198.20,201.00 198.55,201.22 198.90,202.58 199.30,203.58 199.70,204.33 200.05,205.77 200.40,207.01 200.70,206.98 201.00,208.60 201.30,208.35 201.55,209.52 201.80,210.55 202.30,211.94 202.80,211.96 203.70,212.30 204.20,212.80 204.70,213.16 205.70,213.65 205.90,215.14 206.10,215.16 206.22,216.74 206.35,217.08 206.47,218.22 206.60,218.01 206.68,217.68 206.77,216.91 206.85,216.71 206.93,215.56 207.02,214.32 207.10,214.12 207.35,213.40 207.60,211.76 208.10,212.54 208.32,213.59 208.55,214.80 208.78,215.44 209.00,215.95 209.33,216.39 209.67,217.22 210.00,217.68 210.25,218.77 210.50,219.28 210.90,219.94 211.15,220.07 211.40,219.12 211.90,217.67 212.40,217.64 213.30,219.02 213.63,219.73 213.97,219.94 214.30,220.21 215.00,219.94 215.40,220.62 215.80,221.94 216.20,221.93 216.80,223.44 217.40,223.32 218.05,223.29 218.70,222.23 219.90,222.72 220.30,223.77 220.70,223.60 221.10,225.02 221.50,225.75 221.90,226.50 222.30,227.20 222.70,226.70 223.10,228.43 223.50,227.99 223.70,229.44 223.90,230.37 224.10,230.72 224.28,230.48 224.45,229.97 224.62,229.04 224.80,227.53 225.20,227.28 225.60,226.60 226.00,226.57 227.20,226.94 227.80,226.95 228.40,228.19 228.80,228.58 229.20,229.08 229.60,230.30 230.03,229.12 230.47,229.15 230.90,228.44 231.30,229.13 231.70,230.39 232.10,230.50 232.50,231.13 232.90,233.02 233.30,232.81 234.50,233.65 235.70,234.27 236.35,234.57 237.00,234.81 237.90,235.07 238.80,235.30 240.00,234.79 240.60,235.28 241.20,236.70 242.40,237.00" fill="none" stroke="#000" stroke-width="1.3" stroke-linejoin="miter" stroke-miterlimit="2"/>
<polyline points="174.90,304.10 176.30,303.20 177.80,302.70 179.20,301.20 180.70,298.30 182.10,295.50 183.50,292.60 185.00,289.70 185.90,285.80 186.90,282.00 187.90,278.10 188.80,274.80 189.80,271.40 190.80,268.00 191.70,266.60 192.70,264.70 193.30,262.70 194.10,260.80 194.90,261.80 195.60,264.20 196.20,267.10 196.80,270.40 197.50,274.30 198.20,278.10 198.90,282.50 199.40,289.70 199.90,293.50 200.80,297.40 201.80,300.80 202.80,303.20 204.20,305.60 205.70,307.50 207.60,308.90 209.50,309.90" fill="none" stroke="#1a1a1a" stroke-width="0.95" stroke-linejoin="round"/>
<polyline points="174.90,309.90 175.68,309.70 176.45,309.70 177.22,309.70 178.00,309.70 178.78,309.70 179.55,309.58 180.32,309.70 181.10,309.70 181.60,309.09 182.10,308.94 182.80,308.79 183.50,307.41 184.25,307.23 185.00,307.81 185.70,306.45 186.40,306.03 187.15,306.59 187.90,305.25 188.60,305.08 189.30,305.18 190.05,304.34 190.80,304.71 191.50,304.66 192.20,303.04 192.90,303.18 193.60,302.60 194.60,301.96 195.60,300.88 196.05,300.06 196.50,299.82 197.00,299.13 197.50,298.65 198.40,298.78 199.40,298.71 200.40,298.98 201.30,300.29 202.30,300.61 202.80,299.69 203.30,299.29 203.75,298.64 204.20,297.41 205.20,297.92 206.10,296.43 207.10,296.92 208.10,296.30 208.55,295.81 209.00,294.57 209.50,294.30 210.00,293.41 210.90,292.23 211.40,291.86 211.90,291.27 212.23,290.38 212.57,288.91 212.90,288.75 213.20,288.56 213.50,287.41 213.80,286.76 214.80,287.58 215.13,287.56 215.47,288.54 215.80,289.85 216.30,291.02 216.53,290.25 216.77,289.87 217.00,289.38 217.70,289.59 218.40,289.94 219.05,291.18 219.70,291.54 219.96,290.75 220.22,289.91 220.48,289.43 220.74,289.37 221.00,288.47 221.70,287.28 222.40,286.70 223.05,285.71 223.70,285.05 224.40,284.30 225.10,284.52 225.30,283.49 225.50,281.92 225.70,280.89 226.40,281.02 227.10,280.18 227.45,279.64 227.80,278.26 227.95,277.57 228.10,277.64 228.25,275.63 228.40,275.49 229.10,275.53 229.45,276.26 229.80,276.91 230.45,277.76 231.10,278.22 231.36,278.37 231.62,279.57 231.88,280.34 232.14,281.22 232.40,281.59 232.75,281.65 233.10,282.74 233.45,283.99 233.80,283.95 234.23,284.90 234.67,285.23 235.10,285.52 235.57,286.77 236.03,287.09 236.50,288.69 236.93,288.73 237.37,289.92 237.80,290.47 238.27,290.63 238.73,291.32 239.20,291.81 239.40,291.04 239.60,291.18 239.80,289.55 239.92,290.60 240.03,291.55 240.15,292.70 240.27,292.99 240.38,293.45 240.50,294.51 240.69,295.69 240.87,296.72 241.06,296.74 241.24,297.86 241.43,298.30 241.61,299.32 241.80,299.64 242.15,301.28 242.50,301.58 242.85,301.84 243.20,302.77 243.52,303.27 243.85,304.69 244.18,304.64 244.50,305.01 244.97,305.98 245.43,306.41 245.90,307.71 246.55,308.00 247.20,309.29 247.90,308.83 248.60,308.02 248.90,308.60 249.20,309.41 249.90,310.20" fill="none" stroke="#000" stroke-width="1.3" stroke-linejoin="miter" stroke-miterlimit="2"/>
<line x1="47.7" y1="31.0" x2="47.28" y2="134.1" stroke="#111" stroke-width="1.2"/>
<polyline points="46.99,205 46.5,323.0 98.3,323.2" fill="none" stroke="#111" stroke-width="1.2"/>
<line x1="219.4" y1="323.2" x2="262.7" y2="323.4" stroke="#111" stroke-width="1.2"/>
<text transform="translate(50.5,201.5) rotate(-90)" font-size="11.2" letter-spacing="0.15" stroke="#000" stroke-width="0.25" font-family="Liberation Sans, sans-serif">Cell number</text>
<text x="104.2" y="326.4" font-size="11" stroke="#000" stroke-width="0.25" font-family="Liberation Sans, sans-serif">Relative Fluorescence</text>
<text x="292.2" y="18.6" font-size="24" font-weight="bold" stroke="#000" stroke-width="0.7" font-family="Liberation Sans, sans-serif">B</text>
<text x="403.9" y="17.2" font-size="18.4" font-weight="bold" stroke="#000" stroke-width="0.5" font-family="Liberation Sans, sans-serif">CD80</text>
<text x="403.5" y="191.5" font-size="18.4" letter-spacing="0.4" font-weight="bold" stroke="#000" stroke-width="0.5" font-family="Liberation Sans, sans-serif">CD86</text>
<line x1="337.7" y1="27.4" x2="517.3" y2="27.4" stroke="#777" stroke-width="0.9"/>
<line x1="337.7" y1="27.4" x2="342.3" y2="27.4" stroke="#222" stroke-width="1.0"/>
<line x1="517.3" y1="27.4" x2="517.3" y2="126.5" stroke="#999" stroke-width="0.8"/>
<line x1="342.3" y1="27.4" x2="342.3" y2="127.0" stroke="#555" stroke-width="0.9"/>
<line x1="342.3" y1="126.5" x2="517.3" y2="126.5" stroke="#222" stroke-width="0.9"/>
<line x1="337.7" y1="126.50" x2="342.3" y2="126.50" stroke="#222" stroke-width="0.9"/>
<text x="335.2" y="129.40" font-size="8.6" font-weight="bold" stroke="#000" stroke-width="0.2" text-anchor="end" font-family="Liberation Sans, sans-serif">0</text>
<line x1="337.7" y1="104.25" x2="342.3" y2="104.25" stroke="#222" stroke-width="0.9"/>
<text x="335.2" y="107.15" font-size="8.6" font-weight="bold" stroke="#000" stroke-width="0.2" text-anchor="end" font-family="Liberation Sans, sans-serif">500</text>
<line x1="337.7" y1="82.00" x2="342.3" y2="82.00" stroke="#222" stroke-width="0.9"/>
<text x="335.2" y="84.90" font-size="8.6" font-weight="bold" stroke="#000" stroke-width="0.2" text-anchor="end" font-family="Liberation Sans, sans-serif">1000</text>
<line x1="337.7" y1="59.75" x2="342.3" y2="59.75" stroke="#222" stroke-width="0.9"/>
<text x="335.2" y="62.65" font-size="8.6" font-weight="bold" stroke="#000" stroke-width="0.2" text-anchor="end" font-family="Liberation Sans, sans-serif">1500</text>
<line x1="337.7" y1="37.50" x2="342.3" y2="37.50" stroke="#222" stroke-width="0.9"/>
<text x="335.2" y="40.40" font-size="8.6" font-weight="bold" stroke="#000" stroke-width="0.2" text-anchor="end" font-family="Liberation Sans, sans-serif">2000</text>
<line x1="342.30" y1="126.5" x2="342.30" y2="130.5" stroke="#222" stroke-width="0.9"/>
<line x1="364.18" y1="126.5" x2="364.18" y2="130.5" stroke="#222" stroke-width="0.9"/>
<line x1="386.05" y1="126.5" x2="386.05" y2="130.5" stroke="#222" stroke-width="0.9"/>
<line x1="407.92" y1="126.5" x2="407.92" y2="130.5" stroke="#222" stroke-width="0.9"/>
<line x1="429.80" y1="126.5" x2="429.80" y2="130.5" stroke="#222" stroke-width="0.9"/>
<line x1="451.67" y1="126.5" x2="451.67" y2="130.5" stroke="#222" stroke-width="0.9"/>
<line x1="473.55" y1="126.5" x2="473.55" y2="130.5" stroke="#222" stroke-width="0.9"/>
<line x1="495.42" y1="126.5" x2="495.42" y2="130.5" stroke="#222" stroke-width="0.9"/>
<line x1="517.30" y1="126.5" x2="517.30" y2="130.5" stroke="#222" stroke-width="0.9"/>
<rect x="348.44" y="113.80" width="9.6" height="12.70" fill="#000"/>
<text x="353.24" y="137.40" font-size="8.3" font-weight="bold" stroke="#000" stroke-width="0.12" text-anchor="middle" font-family="Liberation Sans, sans-serif">Med</text>
<rect x="370.31" y="112.80" width="9.6" height="13.70" fill="#000"/>
<text x="375.11" y="137.40" font-size="8.3" font-weight="bold" stroke="#000" stroke-width="0.12" text-anchor="middle" font-family="Liberation Sans, sans-serif">Med</text>
<text x="375.11" y="144.90" font-size="7.6" font-weight="bold" stroke="#000" stroke-width="0.12" text-anchor="middle" font-family="Liberation Sans, sans-serif">+</text>
<text x="375.11" y="152.70" font-size="8.3" font-weight="bold" stroke="#000" stroke-width="0.12" text-anchor="middle" font-family="Liberation Sans, sans-serif">IL-10</text>
<rect x="392.19" y="55.10" width="9.6" height="71.40" fill="#000"/>
<text x="396.99" y="137.40" font-size="8.3" font-weight="bold" stroke="#000" stroke-width="0.12" text-anchor="middle" font-family="Liberation Sans, sans-serif">1018</text>
<rect x="414.06" y="51.80" width="9.6" height="74.70" fill="#000"/>
<text x="418.86" y="137.40" font-size="8.3" font-weight="bold" stroke="#000" stroke-width="0.12" text-anchor="middle" font-family="Liberation Sans, sans-serif">1018</text>
<text x="418.86" y="144.90" font-size="7.6" font-weight="bold" stroke="#000" stroke-width="0.12" text-anchor="middle" font-family="Liberation Sans, sans-serif">+</text>
<text x="418.86" y="152.70" font-size="8.3" font-weight="bold" stroke="#000" stroke-width="0.12" text-anchor="middle" font-family="Liberation Sans, sans-serif">IL-10</text>
<rect x="435.94" y="90.50" width="9.6" height="36.00" fill="#000"/>
<text x="440.74" y="137.40" font-size="8.3" font-weight="bold" stroke="#000" stroke-width="0.12" text-anchor="middle" font-family="Liberation Sans, sans-serif">D19</text>
<rect x="457.81" y="86.40" width="9.6" height="40.10" fill="#000"/>
<text x="462.61" y="137.40" font-size="8.3" font-weight="bold" stroke="#000" stroke-width="0.12" text-anchor="middle" font-family="Liberation Sans, sans-serif">D19</text>
<text x="462.61" y="144.90" font-size="7.6" font-weight="bold" stroke="#000" stroke-width="0.12" text-anchor="middle" font-family="Liberation Sans, sans-serif">+</text>
<text x="462.61" y="152.70" font-size="8.3" font-weight="bold" stroke="#000" stroke-width="0.12" text-anchor="middle" font-family="Liberation Sans, sans-serif">IL-10</text>
<rect x="479.69" y="32.80" width="9.6" height="93.70" fill="#000"/>
<text x="484.49" y="137.40" font-size="8.3" font-weight="bold" stroke="#000" stroke-width="0.12" text-anchor="middle" font-family="Liberation Sans, sans-serif">C274</text>
<rect x="501.56" y="48.90" width="9.6" height="77.60" fill="#000"/>
<text x="506.36" y="137.40" font-size="8.3" font-weight="bold" stroke="#000" stroke-width="0.12" text-anchor="middle" font-family="Liberation Sans, sans-serif">C274</text>
<text x="506.36" y="144.90" font-size="7.6" font-weight="bold" stroke="#000" stroke-width="0.12" text-anchor="middle" font-family="Liberation Sans, sans-serif">+</text>
<text x="506.36" y="152.70" font-size="8.3" font-weight="bold" stroke="#000" stroke-width="0.12" text-anchor="middle" font-family="Liberation Sans, sans-serif">IL-10</text>
<line x1="337.7" y1="201.0" x2="516.6" y2="201.0" stroke="#777" stroke-width="0.9"/>
<line x1="337.7" y1="201.0" x2="342.3" y2="201.0" stroke="#222" stroke-width="1.0"/>
<line x1="516.6" y1="201.0" x2="516.6" y2="296.3" stroke="#999" stroke-width="0.8"/>
<line x1="342.3" y1="201.0" x2="342.3" y2="296.8" stroke="#555" stroke-width="0.9"/>
<line x1="342.3" y1="296.3" x2="516.6" y2="296.3" stroke="#222" stroke-width="0.9"/>
<line x1="337.7" y1="296.30" x2="342.3" y2="296.30" stroke="#222" stroke-width="0.9"/>
<text x="335.2" y="299.20" font-size="8.6" font-weight="bold" stroke="#000" stroke-width="0.2" text-anchor="end" font-family="Liberation Sans, sans-serif">0</text>
<line x1="337.7" y1="275.00" x2="342.3" y2="275.00" stroke="#222" stroke-width="0.9"/>
<text x="335.2" y="277.90" font-size="8.6" font-weight="bold" stroke="#000" stroke-width="0.2" text-anchor="end" font-family="Liberation Sans, sans-serif">1000</text>
<line x1="337.7" y1="253.70" x2="342.3" y2="253.70" stroke="#222" stroke-width="0.9"/>
<text x="335.2" y="256.60" font-size="8.6" font-weight="bold" stroke="#000" stroke-width="0.2" text-anchor="end" font-family="Liberation Sans, sans-serif">2000</text>
<line x1="337.7" y1="232.40" x2="342.3" y2="232.40" stroke="#222" stroke-width="0.9"/>
<text x="335.2" y="235.30" font-size="8.6" font-weight="bold" stroke="#000" stroke-width="0.2" text-anchor="end" font-family="Liberation Sans, sans-serif">3000</text>
<line x1="337.7" y1="211.10" x2="342.3" y2="211.10" stroke="#222" stroke-width="0.9"/>
<text x="335.2" y="214.00" font-size="8.6" font-weight="bold" stroke="#000" stroke-width="0.2" text-anchor="end" font-family="Liberation Sans, sans-serif">4000</text>
<line x1="342.30" y1="296.3" x2="342.30" y2="300.3" stroke="#222" stroke-width="0.9"/>
<line x1="364.09" y1="296.3" x2="364.09" y2="300.3" stroke="#222" stroke-width="0.9"/>
<line x1="385.88" y1="296.3" x2="385.88" y2="300.3" stroke="#222" stroke-width="0.9"/>
<line x1="407.66" y1="296.3" x2="407.66" y2="300.3" stroke="#222" stroke-width="0.9"/>
<line x1="429.45" y1="296.3" x2="429.45" y2="300.3" stroke="#222" stroke-width="0.9"/>
<line x1="451.24" y1="296.3" x2="451.24" y2="300.3" stroke="#222" stroke-width="0.9"/>
<line x1="473.03" y1="296.3" x2="473.03" y2="300.3" stroke="#222" stroke-width="0.9"/>
<line x1="494.81" y1="296.3" x2="494.81" y2="300.3" stroke="#222" stroke-width="0.9"/>
<line x1="516.60" y1="296.3" x2="516.60" y2="300.3" stroke="#222" stroke-width="0.9"/>
<rect x="348.39" y="272.00" width="9.6" height="24.30" fill="#000"/>
<text x="353.19" y="307.20" font-size="8.3" font-weight="bold" stroke="#000" stroke-width="0.12" text-anchor="middle" font-family="Liberation Sans, sans-serif">Med</text>
<rect x="370.18" y="272.00" width="9.6" height="24.30" fill="#000"/>
<text x="374.98" y="307.20" font-size="8.3" font-weight="bold" stroke="#000" stroke-width="0.12" text-anchor="middle" font-family="Liberation Sans, sans-serif">Med</text>
<text x="374.98" y="314.70" font-size="7.6" font-weight="bold" stroke="#000" stroke-width="0.12" text-anchor="middle" font-family="Liberation Sans, sans-serif">+</text>
<text x="374.98" y="322.50" font-size="8.3" font-weight="bold" stroke="#000" stroke-width="0.12" text-anchor="middle" font-family="Liberation Sans, sans-serif">IL-10</text>
<rect x="391.97" y="222.10" width="9.6" height="74.20" fill="#000"/>
<text x="396.77" y="307.20" font-size="8.3" font-weight="bold" stroke="#000" stroke-width="0.12" text-anchor="middle" font-family="Liberation Sans, sans-serif">1018</text>
<rect x="413.76" y="219.90" width="9.6" height="76.40" fill="#000"/>
<text x="418.56" y="307.20" font-size="8.3" font-weight="bold" stroke="#000" stroke-width="0.12" text-anchor="middle" font-family="Liberation Sans, sans-serif">1018</text>
<text x="418.56" y="314.70" font-size="7.6" font-weight="bold" stroke="#000" stroke-width="0.12" text-anchor="middle" font-family="Liberation Sans, sans-serif">+</text>
<text x="418.56" y="322.50" font-size="8.3" font-weight="bold" stroke="#000" stroke-width="0.12" text-anchor="middle" font-family="Liberation Sans, sans-serif">IL-10</text>
<rect x="435.54" y="238.90" width="9.6" height="57.40" fill="#000"/>
<text x="440.34" y="307.20" font-size="8.3" font-weight="bold" stroke="#000" stroke-width="0.12" text-anchor="middle" font-family="Liberation Sans, sans-serif">D19</text>
<rect x="457.33" y="230.60" width="9.6" height="65.70" fill="#000"/>
<text x="462.13" y="307.20" font-size="8.3" font-weight="bold" stroke="#000" stroke-width="0.12" text-anchor="middle" font-family="Liberation Sans, sans-serif">D19</text>
<text x="462.13" y="314.70" font-size="7.6" font-weight="bold" stroke="#000" stroke-width="0.12" text-anchor="middle" font-family="Liberation Sans, sans-serif">+</text>
<text x="462.13" y="322.50" font-size="8.3" font-weight="bold" stroke="#000" stroke-width="0.12" text-anchor="middle" font-family="Liberation Sans, sans-serif">IL-10</text>
<rect x="479.12" y="210.70" width="9.6" height="85.60" fill="#000"/>
<text x="483.92" y="307.20" font-size="8.3" font-weight="bold" stroke="#000" stroke-width="0.12" text-anchor="middle" font-family="Liberation Sans, sans-serif">C274</text>
<rect x="500.91" y="214.30" width="9.6" height="82.00" fill="#000"/>
<text x="505.71" y="307.20" font-size="8.3" font-weight="bold" stroke="#000" stroke-width="0.12" text-anchor="middle" font-family="Liberation Sans, sans-serif">C274</text>
<text x="505.71" y="314.70" font-size="7.6" font-weight="bold" stroke="#000" stroke-width="0.12" text-anchor="middle" font-family="Liberation Sans, sans-serif">+</text>
<text x="505.71" y="322.50" font-size="8.3" font-weight="bold" stroke="#000" stroke-width="0.12" text-anchor="middle" font-family="Liberation Sans, sans-serif">IL-10</text>
<text transform="translate(302.1,81.8) rotate(-90)" font-size="11.6" font-weight="bold" stroke="#000" stroke-width="0.4" font-family="Liberation Sans, sans-serif">MFI</text>
<text transform="translate(302.0,256.0) rotate(-90)" font-size="11.6" font-weight="bold" stroke="#000" stroke-width="0.4" font-family="Liberation Sans, sans-serif">MFI</text>
</svg>
</body></html>
